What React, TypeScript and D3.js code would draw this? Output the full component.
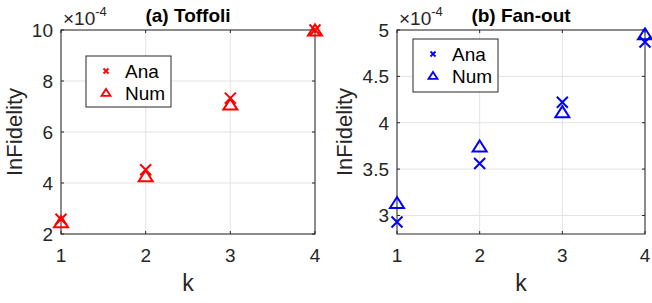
import React, {useEffect, useRef} from 'react';
import * as d3 from 'd3';

// k values shared by both panels
const kValues = [1, 2, 3, 4];

// (a) Toffoli, in units of 1e-4
const toffoliAna = [2.58, 4.52, 7.33, 10.0];
const toffoliNum = [2.45, 4.25, 7.06, 9.97];
const toffoliTicks = [2, 4, 6, 8, 10];

// (b) Fan-out, in units of 1e-4
const fanoutAna = [2.93, 3.56, 4.22, 4.87];
const fanoutNum = [3.13, 3.74, 4.11, 4.95];
const fanoutTicks = [3, 3.5, 4, 4.5, 5];

const FONT = '"Liberation Sans", Arial, Helvetica, sans-serif';

const App = () => {
  const ref = useRef<SVGSVGElement>(null);

  useEffect(() => {
    drawChart();
    return () => {
      d3.select(ref.current).selectAll('*').remove();
    };
  }, []);

  const drawChart = () => {
    const svg = d3.select(ref.current);

    const panels = [
      {title: '(a) Toffoli', left: 61, right: 315, domain: [2, 10], ticks: toffoliTicks,
        ana: toffoliAna, num: toffoliNum, color: '#ff0000', ylabX: 22,
        legend: {x: 86, y: 56, w: 85, h: 51}},
      {title: '(b) Fan-out', left: 397, right: 645, domain: [2.8, 5], ticks: fanoutTicks,
        ana: fanoutAna, num: fanoutNum, color: '#0000ff', ylabX: 352,
        legend: {x: 413, y: 39, w: 85, h: 53}},
    ];
    const top = 30, bottom = 234;

    panels.forEach(p => {
      const g = svg.append('g');
      const x = d3.scaleLinear().domain([1, 4]).range([p.left, p.right]);
      const y = d3.scaleLinear().domain(p.domain).range([bottom, top]);

      // grid
      g.selectAll('.gx').data(kValues).enter().append('line')
        .attr('x1', d => x(d)).attr('x2', d => x(d))
        .attr('y1', top).attr('y2', bottom)
        .attr('stroke', '#e3e3e3').attr('stroke-width', 1);
      g.selectAll('.gy').data(p.ticks).enter().append('line')
        .attr('x1', p.left).attr('x2', p.right)
        .attr('y1', d => y(d)).attr('y2', d => y(d))
        .attr('stroke', '#e3e3e3').attr('stroke-width', 1);

      // box
      g.append('rect')
        .attr('x', p.left).attr('y', top)
        .attr('width', p.right - p.left).attr('height', bottom - top)
        .attr('fill', 'none').attr('stroke', '#262626').attr('stroke-width', 1);

      // ticks inside
      const tl = 3;
      kValues.forEach(k => {
        g.append('line').attr('x1', x(k)).attr('x2', x(k)).attr('y1', bottom).attr('y2', bottom - tl)
          .attr('stroke', '#262626');
        g.append('line').attr('x1', x(k)).attr('x2', x(k)).attr('y1', top).attr('y2', top + tl)
          .attr('stroke', '#262626');
      });
      p.ticks.forEach(t => {
        g.append('line').attr('x1', p.left).attr('x2', p.left + tl).attr('y1', y(t)).attr('y2', y(t))
          .attr('stroke', '#262626');
        g.append('line').attr('x1', p.right).attr('x2', p.right - tl).attr('y1', y(t)).attr('y2', y(t))
          .attr('stroke', '#262626');
      });

      // tick labels
      g.selectAll('.xl').data(kValues).enter().append('text')
        .attr('x', d => x(d)).attr('y', 262)
        .attr('text-anchor', 'middle')
        .attr('font-family', FONT).attr('font-size', 19).attr('fill', '#262626')
        .text(d => d);
      g.selectAll('.yl').data(p.ticks).enter().append('text')
        .attr('x', p.left - 8).attr('y', d => y(d)).attr('dy', '0.36em')
        .attr('text-anchor', 'end')
        .attr('font-family', FONT).attr('font-size', 19).attr('fill', '#262626')
        .text(d => d);

      // exponent
      const ex = g.append('text').attr('x', p.left + 2).attr('y', 25)
        .attr('font-family', FONT).attr('font-size', 19).attr('fill', '#262626');
      ex.append('tspan').text('\u00d710');
      ex.append('tspan').attr('font-size', 13).attr('dy', -9).text('-4');

      // title
      g.append('text').attr('x', (p.left + p.right) / 2).attr('y', 22)
        .attr('text-anchor', 'middle').attr('font-weight', 'bold')
        .attr('font-family', FONT).attr('font-size', 19).attr('fill', '#000')
        .text(p.title);

      // axis labels
      g.append('text').attr('x', (p.left + p.right) / 2).attr('y', 291)
        .attr('text-anchor', 'middle')
        .attr('font-family', FONT).attr('font-size', 23).attr('fill', '#262626')
        .text('k');
      g.append('text')
        .attr('transform', `translate(${p.ylabX},${(top + bottom) / 2}) rotate(-90)`)
        .attr('text-anchor', 'middle')
        .attr('font-family', FONT).attr('font-size', 22).attr('fill', '#262626')
        .text('InFidelity');

      const cross = (sel: any, cx: number, cy: number, r: number, w: number) => {
        sel.append('path')
          .attr('d', `M${cx - r},${cy - r}L${cx + r},${cy + r}M${cx - r},${cy + r}L${cx + r},${cy - r}`)
          .attr('stroke', p.color).attr('stroke-width', w).attr('fill', 'none');
      };
      const tri = (sel: any, cx: number, cy: number, hw: number, h: number, w: number) => {
        sel.append('path')
          .attr('d', `M${cx},${cy - h * 0.58}L${cx + hw},${cy + h * 0.42}L${cx - hw},${cy + h * 0.42}Z`)
          .attr('stroke', p.color).attr('stroke-width', w).attr('fill', 'none')
          .attr('stroke-linejoin', 'miter');
      };

      // markers
      kValues.forEach((k, i) => {
        tri(g, x(k), y(p.num[i]), 7, 11, 2);
        cross(g, x(k), y(p.ana[i]), 5.5, 2);
      });

      // legend
      const L = p.legend;
      g.append('rect').attr('x', L.x).attr('y', L.y).attr('width', L.w).attr('height', L.h)
        .attr('fill', '#fff').attr('stroke', '#262626').attr('stroke-width', 1);
      const rows = ['Ana', 'Num'];
      rows.forEach((r, i) => {
        const cy = L.y + (i === 0 ? 15 : 37);
        if (i === 0) cross(g, L.x + 20, cy, 2.5, 1.8);
        else tri(g, L.x + 20, cy, 4.5, 7, 1.8);
        g.append('text').attr('x', L.x + 39).attr('y', cy).attr('dy', '0.36em')
          .attr('font-family', FONT).attr('font-size', 19).attr('fill', '#000')
          .text(r);
      });
    });
  };

  return (
    <svg ref={ref} width={652} height={303}
      style={{position: 'absolute', left: 0, top: 0, background: '#fff'}} />
  );
};

export default App;
